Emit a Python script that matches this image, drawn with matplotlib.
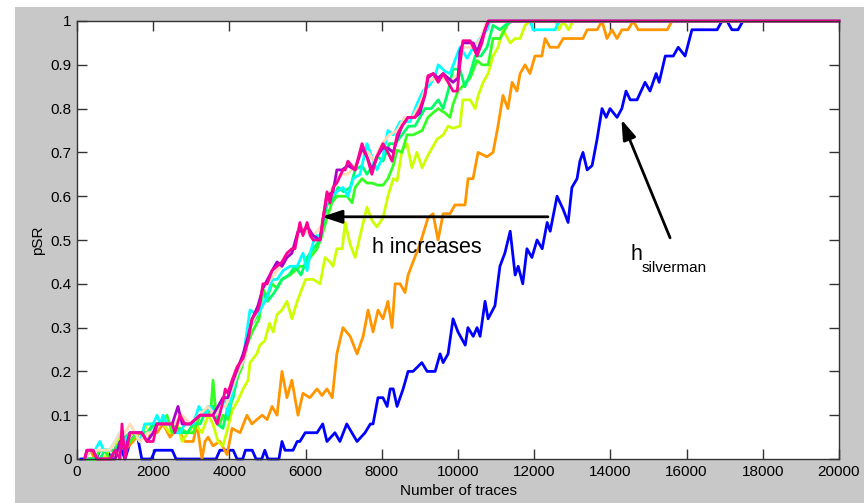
import numpy as np
import matplotlib
matplotlib.use("Agg")
import matplotlib.pyplot as plt
from matplotlib.patches import Rectangle

plt.rcParams["font.family"] = ["Liberation Sans", "DejaVu Sans"]

# pSR curves, (traces, pSR)
blue_pts = [(100, 0), (500, 0), (600, 0.02), (800, 0.02), (900, 0), (1080, 0.04), (1260, 0),
            (1400, 0.04), (1570, 0.06), (1700, 0), (1950, 0), (2050, 0.02), (2500, 0.02), (2600, 0),
            (3650, 0), (3750, 0.02), (4100, 0.02), (4200, 0), (4350, 0), (4420, 0.02), (4600, 0.02),
            (4700, 0), (4850, 0), (4930, 0.02), (5010, 0), (5300, 0), (5380, 0.04), (5460, 0.02),
            (5670, 0.02), (5780, 0.04), (5850, 0.04), (5990, 0.06), (6300, 0.06), (6450, 0.08),
            (6560, 0.04), (6770, 0.06), (6900, 0.04), (7080, 0.08), (7350, 0.04), (7560, 0.06),
            (7700, 0.08), (7770, 0.08), (7900, 0.14), (8030, 0.14), (8140, 0.12), (8220, 0.16),
            (8300, 0.16), (8400, 0.12), (8560, 0.16), (8690, 0.2), (8820, 0.2), (9050, 0.22),
            (9190, 0.2), (9400, 0.2), (9530, 0.24), (9610, 0.22), (9740, 0.24), (9870, 0.32),
            (10000, 0.29), (10190, 0.26), (10260, 0.3), (10400, 0.28), (10500, 0.3), (10580, 0.28),
            (10710, 0.36), (10790, 0.32), (10970, 0.35), (11100, 0.44), (11230, 0.47), (11370, 0.52),
            (11500, 0.42), (11580, 0.44), (11700, 0.40), (11810, 0.48), (11940, 0.46), (12075, 0.5),
            (12210, 0.48), (12340, 0.54), (12420, 0.52), (12600, 0.6), (12760, 0.57), (12890, 0.54),
            (12990, 0.62), (13125, 0.64), (13200, 0.68), (13280, 0.70), (13390, 0.66), (13520, 0.67),
            (13650, 0.73), (13780, 0.80), (13890, 0.78), (13990, 0.80), (14175, 0.78), (14300, 0.80),
            (14410, 0.84), (14520, 0.82), (14700, 0.82), (14910, 0.86), (15040, 0.84), (15200, 0.88),
            (15280, 0.86), (15440, 0.92), (15650, 0.92), (15780, 0.94), (15960, 0.92), (16140, 0.98),
            (16400, 0.98), (16800, 0.98), (16930, 1.0), (17060, 1.0), (17190, 0.98), (17350, 0.98),
            (17480, 1.0), (20000, 1.0)]

orange_pts = [(200, 0), (350, 0.02), (470, 0), (1000, 0), (1130, 0.04), (1260, 0.02), (1470, 0.04),
              (1650, 0.06), (1840, 0.04), (1950, 0.06), (2100, 0.06), (2260, 0.08), (2440, 0.05),
              (2625, 0.07), (2835, 0.04), (3050, 0.04), (3150, 0.08), (3280, 0.0), (3360, 0.04),
              (3440, 0.05), (3570, 0.03), (3750, 0.04), (3940, 0.01), (4070, 0.07), (4280, 0.06),
              (4460, 0.1), (4590, 0.08), (4720, 0.09), (4860, 0.1), (4990, 0.09), (5120, 0.12),
              (5250, 0.1), (5380, 0.2), (5510, 0.14), (5640, 0.18), (5800, 0.1), (5930, 0.15),
              (6110, 0.14), (6300, 0.16), (6430, 0.145), (6560, 0.16), (6700, 0.14), (6820, 0.24),
              (6980, 0.30), (7170, 0.28), (7350, 0.24), (7510, 0.28), (7640, 0.34), (7770, 0.29),
              (7900, 0.34), (8030, 0.32), (8160, 0.36), (8270, 0.30), (8350, 0.40), (8480, 0.40),
              (8610, 0.38), (8690, 0.42), (8820, 0.45), (9000, 0.49), (9210, 0.55), (9345, 0.56),
              (9476, 0.50), (9610, 0.56), (9790, 0.56), (9920, 0.58), (10050, 0.58), (10185, 0.58),
              (10264, 0.64), (10395, 0.64), (10526, 0.70), (10760, 0.69), (10920, 0.70), (11050, 0.76),
              (11180, 0.83), (11310, 0.80), (11420, 0.86), (11550, 0.84), (11630, 0.88), (11760, 0.90),
              (11890, 0.88), (12020, 0.92), (12200, 0.92), (12285, 0.96), (12415, 0.94), (12625, 0.94),
              (12760, 0.96), (13280, 0.96), (13390, 0.98), (13650, 0.98), (13780, 1.0), (13910, 0.96),
              (14040, 0.98), (14175, 0.96), (14300, 0.98), (14460, 0.98), (14600, 1.0), (14730, 0.98),
              (15490, 0.98), (15620, 1.0), (20000, 1.0)]

yellow_pts = [(200, 0), (700, 0), (850, 0.02), (1000, 0.02), (1130, 0.06), (1260, 0.04), (1470, 0.06),
              (1650, 0.04), (1840, 0.08), (2100, 0.08), (2260, 0.08), (2440, 0.06), (2625, 0.08),
              (2760, 0.04), (2900, 0.06), (3100, 0.08), (3280, 0.06), (3440, 0.1), (3570, 0.08),
              (3700, 0.04), (3830, 0.03), (3940, 0.065), (4070, 0.11), (4230, 0.135), (4360, 0.16),
              (4490, 0.18), (4540, 0.22), (4720, 0.24), (4800, 0.26), (4930, 0.27), (5050, 0.31),
              (5150, 0.29), (5250, 0.33), (5380, 0.34), (5510, 0.36), (5640, 0.32), (5780, 0.36),
              (5910, 0.39), (6000, 0.41), (6200, 0.41), (6380, 0.40), (6510, 0.46), (6640, 0.45),
              (6720, 0.44), (6820, 0.48), (6960, 0.48), (7040, 0.54), (7170, 0.49), (7300, 0.46),
              (7430, 0.51), (7610, 0.575), (7740, 0.545), (7870, 0.53), (8030, 0.55), (8160, 0.60),
              (8300, 0.64), (8400, 0.635), (8530, 0.705), (8660, 0.72), (8790, 0.665), (8920, 0.70),
              (9060, 0.665), (9190, 0.69), (9320, 0.71), (9450, 0.73), (9610, 0.74), (9740, 0.76),
              (9870, 0.755), (10050, 0.76), (10130, 0.82), (10320, 0.82), (10450, 0.80), (10530, 0.83),
              (10660, 0.86), (10790, 0.88), (10920, 0.92), (11050, 0.94), (11180, 0.98), (11370, 0.95),
              (11500, 0.96), (11630, 0.96), (11760, 0.99), (11890, 1.0), (12550, 1.0), (12650, 0.98),
              (12760, 1.0), (12900, 0.98), (13020, 1.0), (20000, 1.0)]

green_pts = [(200, 0), (470, 0), (600, 0.02), (730, 0.02), (860, 0), (1000, 0.02), (1130, 0.04),
             (1260, 0.02), (1390, 0.04), (1600, 0.06), (1840, 0.06), (2000, 0.08), (2180, 0.08),
             (2360, 0.1), (2500, 0.06), (2700, 0.07), (2900, 0.06), (3050, 0.06), (3230, 0.1),
             (3440, 0.1), (3520, 0.12), (3570, 0.18), (3650, 0.1), (3750, 0.08), (3830, 0.1),
             (3960, 0.09), (4100, 0.15), (4230, 0.19), (4330, 0.21), (4460, 0.26), (4600, 0.29),
             (4780, 0.32), (4870, 0.39), (5000, 0.37), (5120, 0.40), (5250, 0.39), (5380, 0.41),
             (5590, 0.42), (5850, 0.44), (5980, 0.44), (6120, 0.46), (6300, 0.48), (6430, 0.51),
             (6560, 0.55), (6690, 0.585), (6820, 0.60), (6960, 0.60), (7090, 0.60), (7220, 0.585),
             (7300, 0.62), (7480, 0.64), (7610, 0.63), (7740, 0.63), (7900, 0.625), (8030, 0.625),
             (8160, 0.64), (8300, 0.67), (8400, 0.705), (8530, 0.70), (8660, 0.74), (8820, 0.74),
             (9060, 0.75), (9210, 0.78), (9340, 0.79), (9480, 0.80), (9660, 0.79), (9790, 0.78),
             (9870, 0.81), (10000, 0.84), (10320, 0.87), (10500, 0.91), (10630, 0.90), (10790, 0.90),
             (10920, 0.96), (11100, 0.96), (11290, 0.99), (11370, 1.0), (20000, 1.0)]

spring_pts = [(200, 0), (600, 0), (730, 0.02), (1000, 0.02), (1130, 0.04), (1390, 0.06), (1650, 0.06),
              (1840, 0.06), (2050, 0.08), (2400, 0.08), (2570, 0.08), (2700, 0.06), (2900, 0.06),
              (3050, 0.08), (3230, 0.08), (3440, 0.12), (3570, 0.12), (3680, 0.08), (3830, 0.07),
              (3960, 0.12), (4100, 0.14), (4230, 0.2), (4400, 0.23), (4540, 0.3), (4750, 0.33),
              (4880, 0.38), (5000, 0.36), (5180, 0.38), (5380, 0.41), (5560, 0.42), (5720, 0.44),
              (5880, 0.42), (6040, 0.46), (6200, 0.48), (6380, 0.5), (6560, 0.58), (6700, 0.59),
              (6850, 0.62), (7000, 0.61), (7170, 0.62), (7300, 0.66), (7480, 0.67), (7610, 0.65),
              (7770, 0.67), (7900, 0.69), (8030, 0.68), (8200, 0.72), (8350, 0.72), (8530, 0.74),
              (8700, 0.76), (8870, 0.76), (9000, 0.78), (9130, 0.80), (9300, 0.80), (9480, 0.82),
              (9610, 0.80), (9740, 0.84), (9870, 0.89), (10050, 0.89), (10180, 0.85), (10320, 0.88),
              (10450, 0.92), (10600, 0.92), (10760, 0.94), (10920, 0.99), (11100, 0.98), (11230, 0.99),
              (11420, 1.0), (20000, 1.0)]

cyan_pts = [(200, 0), (340, 0.02), (470, 0.02), (600, 0.04), (700, 0.02), (860, 0.02), (1000, 0.04),
            (1130, 0.06), (1260, 0.04), (1390, 0.06), (1520, 0.06), (1650, 0.04), (1780, 0.08),
            (2000, 0.08), (2100, 0.1), (2180, 0.08), (2260, 0.1), (2360, 0.08), (2500, 0.08),
            (2570, 0.06), (2700, 0.06), (2830, 0.08), (3050, 0.08), (3200, 0.12), (3360, 0.1),
            (3500, 0.12), (3620, 0.1), (3750, 0.12), (3880, 0.14), (3960, 0.1), (4100, 0.16),
            (4230, 0.21), (4360, 0.23), (4540, 0.34), (4750, 0.33), (4990, 0.37), (5120, 0.41),
            (5250, 0.41), (5410, 0.43), (5590, 0.44), (5780, 0.44), (5930, 0.47), (6040, 0.43),
            (6120, 0.47), (6250, 0.51), (6380, 0.51), (6560, 0.60), (6690, 0.60), (6820, 0.61),
            (6980, 0.62), (7110, 0.60), (7250, 0.64), (7430, 0.65), (7610, 0.72), (7740, 0.69),
            (7870, 0.66), (8030, 0.69), (8160, 0.75), (8300, 0.74), (8480, 0.77), (8610, 0.77),
            (8740, 0.77), (8920, 0.81), (9080, 0.84), (9270, 0.855), (9400, 0.875), (9480, 0.90),
            (9660, 0.885), (9790, 0.88), (9920, 0.91), (10050, 0.94), (10240, 0.915), (10400, 0.94),
            (10580, 0.96), (10760, 0.98), (10840, 1.0), (11900, 1.0), (11970, 0.98), (12550, 0.98),
            (12650, 1.0), (20000, 1.0)]

peach_pts = [(200, 0), (340, 0.02), (600, 0.02), (860, 0.02), (1000, 0.04), (1130, 0.06), (1260, 0.06),
             (1390, 0.08), (1520, 0.06), (1650, 0.04), (1840, 0.06), (2000, 0.06), (2180, 0.08),
             (2360, 0.08), (2570, 0.08), (2760, 0.1), (2970, 0.08), (3200, 0.1), (3440, 0.12),
             (3620, 0.1), (3750, 0.12), (3900, 0.12), (4070, 0.16), (4230, 0.2), (4400, 0.23),
             (4540, 0.3), (4700, 0.33), (4880, 0.39), (5000, 0.4), (5250, 0.43), (5380, 0.44),
             (5550, 0.47), (5720, 0.48), (5850, 0.53), (6000, 0.52), (6200, 0.51), (6400, 0.53),
             (6560, 0.6), (6720, 0.62), (6900, 0.65), (7100, 0.65), (7300, 0.67), (7480, 0.70),
             (7650, 0.70), (7800, 0.68), (8000, 0.72), (8200, 0.74), (8400, 0.75), (8600, 0.78),
             (8800, 0.78), (9000, 0.81), (9200, 0.86), (9400, 0.87), (9600, 0.87), (9800, 0.86),
             (10000, 0.88), (10130, 0.94), (10400, 0.94), (10600, 0.96), (10750, 1.0), (20000, 1.0)]

purple_pts = [(200, 0), (260, 0.02), (420, 0.02), (525, 0), (1000, 0), (1130, 0.04), (1260, 0.02),
              (1390, 0.06), (1700, 0.06), (1840, 0.04), (2000, 0.06), (2100, 0.08), (2500, 0.08),
              (2650, 0.12), (2760, 0.08), (2970, 0.08), (3230, 0.1), (3570, 0.1), (3700, 0.12),
              (3830, 0.14), (3960, 0.14), (4100, 0.18), (4230, 0.21), (4360, 0.24), (4490, 0.28),
              (4600, 0.32), (4750, 0.35), (4880, 0.39), (5000, 0.41), (5120, 0.43), (5250, 0.45),
              (5380, 0.44), (5510, 0.46), (5640, 0.47), (5800, 0.52), (5930, 0.52), (6050, 0.53),
              (6200, 0.51), (6380, 0.5), (6460, 0.55), (6560, 0.6), (6720, 0.61), (6820, 0.66),
              (6960, 0.66), (7110, 0.67), (7300, 0.66), (7480, 0.71), (7610, 0.69), (7740, 0.66),
              (7870, 0.69), (8030, 0.71), (8160, 0.71), (8300, 0.70), (8400, 0.73), (8530, 0.76),
              (8690, 0.78), (8870, 0.78), (9000, 0.79), (9130, 0.83), (9210, 0.87), (9350, 0.88),
              (9480, 0.87), (9610, 0.88), (9740, 0.87), (9870, 0.86), (10000, 0.87), (10050, 0.93),
              (10130, 0.95), (10400, 0.95), (10500, 0.93), (10630, 0.96), (10710, 0.98), (10800, 1.0),
              (20000, 1.0)]

magenta_pts = [(200, 0), (260, 0.02), (420, 0.02), (525, 0), (860, 0), (1000, 0.02), (1130, 0),
               (1180, 0.08), (1260, 0), (1390, 0.06), (1700, 0.06), (1840, 0.04), (2000, 0.04),
               (2100, 0.08), (2500, 0.08), (2570, 0.06), (2700, 0.1), (2830, 0.08), (2970, 0.08),
               (3230, 0.1), (3440, 0.1), (3570, 0.1), (3680, 0.08), (3830, 0.13), (3890, 0.16),
               (3960, 0.15), (4070, 0.18), (4200, 0.21), (4360, 0.23), (4490, 0.27), (4590, 0.32),
               (4750, 0.34), (4800, 0.355), (4880, 0.40), (4990, 0.40), (5120, 0.43), (5250, 0.44),
               (5380, 0.45), (5510, 0.47), (5640, 0.48), (5720, 0.48), (5850, 0.54), (5930, 0.51),
               (6040, 0.54), (6120, 0.51), (6200, 0.50), (6380, 0.50), (6460, 0.55), (6560, 0.61),
               (6640, 0.585), (6720, 0.62), (6820, 0.63), (6900, 0.645), (6980, 0.66), (7040, 0.66),
               (7110, 0.68), (7300, 0.66), (7480, 0.72), (7610, 0.69), (7740, 0.65), (7870, 0.69),
               (8030, 0.72), (8160, 0.70), (8270, 0.68), (8400, 0.74), (8530, 0.76), (8690, 0.78),
               (8870, 0.78), (9000, 0.80), (9130, 0.83), (9210, 0.875), (9350, 0.88), (9480, 0.86),
               (9610, 0.88), (9740, 0.86), (9870, 0.84), (9980, 0.84), (10050, 0.90), (10130, 0.955),
               (10320, 0.955), (10400, 0.94), (10500, 0.92), (10630, 0.95), (10710, 0.98), (10790, 1.0),
               (20000, 1.0)]

series = [
    (blue_pts, "#0000ff"),
    (orange_pts, "#ff9600"),
    (yellow_pts, "#ccff00"),
    (green_pts, "#33ff22"),
    (spring_pts, "#00ff66"),
    (cyan_pts, "#00ffff"),
    (peach_pts, "#ffdcb8"),
    (purple_pts, "#aa00cc"),
    (magenta_pts, "#ff0096"),
]

xticks = np.arange(0, 20001, 2000)
yticks = np.round(np.arange(0, 1.01, 0.1), 1)
ytick_labels = ["0", "0.1", "0.2", "0.3", "0.4", "0.5", "0.6", "0.7", "0.8", "0.9", "1"]

fig = plt.figure(figsize=(8.64, 5.03), dpi=100, facecolor="white")
# grey matlab-style figure area
fig.patches.append(Rectangle((15 / 864, 0), 1, 496 / 503, transform=fig.transFigure,
                             facecolor="#c8c8c8", edgecolor="none", zorder=-10))

ax = fig.add_axes([77 / 864, 44 / 503, 762 / 864, 438 / 503])
ax.set_facecolor("white")

for pts, col in series:
    arr = np.array(pts, dtype=float)
    ax.plot(arr[:, 0], arr[:, 1], color=col, lw=2.0, clip_on=False, solid_joinstyle="round")

ax.set_xlim(0, 20000)
ax.set_ylim(0, 1)
ax.set_xticks(xticks)
ax.set_xticklabels([str(v) for v in xticks])
ax.set_yticks(yticks)
ax.set_yticklabels(ytick_labels)
ax.tick_params(direction="in", length=7, width=1, colors="#333333", labelcolor="black",
               labelsize=11, top=True, right=True, pad=4)
for sp in ax.spines.values():
    sp.set_color("#333333")
    sp.set_linewidth(1)

ax.set_xlabel("Number of traces", fontsize=11, labelpad=4)
ax.set_ylabel("pSR", fontsize=11, labelpad=4)

# annotations
ax.annotate("", xy=(6430, 0.553), xytext=(12360, 0.553),
            arrowprops=dict(arrowstyle="-|>,head_length=0.6,head_width=0.2",
                            mutation_scale=20, lw=2, color="black", shrinkA=0, shrinkB=0))
ax.text(7744, 0.470, "h increases", fontsize=15.5, ha="left", va="baseline")

ax.annotate("", xy=(14290, 0.775), xytext=(15566, 0.505),
            arrowprops=dict(arrowstyle="-|>,head_length=0.6,head_width=0.2",
                            mutation_scale=20, lw=2, color="black", shrinkA=0, shrinkB=0))
ax.text(14516, 0.454, "h", fontsize=15.5, ha="left", va="baseline")
ax.text(14831, 0.427, "silverman", fontsize=11, ha="left", va="baseline")

fig.savefig("out.png", dpi=100, facecolor=fig.get_facecolor())
